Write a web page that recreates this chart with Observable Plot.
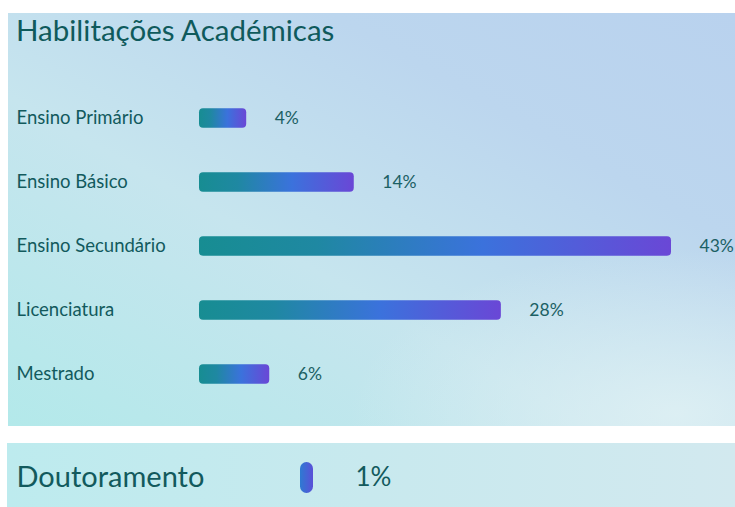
<!DOCTYPE html>
<html>
<head>
<meta charset="utf-8">
<script src="https://cdn.jsdelivr.net/npm/d3@7"></script>
<script src="https://cdn.jsdelivr.net/npm/@observablehq/plot@0.6"></script>
<style>
  html, body { margin: 0; padding: 0; background: #ffffff; width: 735px; height: 507px; overflow: hidden; font-family: Lato, "Open Sans", sans-serif; }
  #top { position: absolute; left: 8px; top: 13px; width: 727px; height: 413px;
    background:
      radial-gradient(ellipse 45% 40% at 92% 97%, rgba(224,241,244,0.85), rgba(224,241,244,0)),
      linear-gradient(to top right, #b3e9ea 0%, #c6e5ee 40%, #bcd6ee 72%, #b9d2ee 100%);
  }
  #title { position: absolute; left: 8px; top: -1px; font-size: 29.5px; line-height: 1.2; color: #0f5a5c; white-space: nowrap; }
  #bottom { position: absolute; left: 7px; top: 443px; width: 728px; height: 64px;
    background: linear-gradient(to right, #bdebee 0%, #c8e9ee 50%, #d2e9ef 100%);
  }
  .chart svg { position: absolute; left: 0; top: 0; }
</style>
</head>
<body>
<div id="top" class="chart"><div id="title">Habilitações Académicas</div></div>
<div id="bottom" class="chart"></div>
<script>
// Data
const categories = ["Ensino Primário", "Ensino Básico", "Ensino Secundário", "Licenciatura", "Mestrado"];
const values = [4.3, 14.1, 43.0, 27.5, 6.4];
const extraCategory = ["Doutoramento"];
const extraValues = [1];

const textColor = "#125a5d";
const valueColor = "#1b6064";
const rows = categories.map((c, i) => ({category: c, value: values[i], label: Math.round(values[i]) + "%"}));
const extraRows = extraCategory.map((c, i) => ({category: c, value: extraValues[i], label: Math.round(extraValues[i]) + "%"}));

function addGradient(svg, id, stops) {
  const defs = d3.select(svg).insert("defs", ":first-child");
  const g = defs.append("linearGradient").attr("id", id).attr("x1", "0").attr("x2", "1").attr("y1", "0").attr("y2", "0");
  stops.forEach(([o, c]) => g.append("stop").attr("offset", o).attr("stop-color", c));
}

const topPlot = Plot.plot({
  width: 727,
  height: 413,
  marginTop: 71,
  marginBottom: 19,
  marginLeft: 191,
  marginRight: 64,
  style: {background: "transparent", overflow: "visible", fontFamily: "Lato, 'Open Sans', sans-serif"},
  x: {domain: [0, 43], axis: null},
  y: {domain: categories, padding: 0, axis: null},
  marks: [
    Plot.barX(rows, {x: "value", y: "category", fill: "url(#barGrad)", rx: 4, insetTop: 22.3, insetBottom: 22.3}),
    Plot.text(rows, {x: "value", y: "category", text: "label", textAnchor: "start", dx: 28, fontSize: 17.5, fill: valueColor}),
    Plot.axisY({anchor: "left", tickSize: 0, tickPadding: 0, textAnchor: "start", dx: -183, fontSize: 18.5, fill: textColor, label: null})
  ]
});
addGradient(topPlot, "barGrad", [["0%", "#178d92"], ["25%", "#1f88a2"], ["60%", "#3b72dc"], ["100%", "#6a47d6"]]);
document.getElementById("top").appendChild(topPlot);

const bottomPlot = Plot.plot({
  width: 728,
  height: 64,
  marginTop: 1,
  marginBottom: -4,
  marginLeft: 293,
  marginRight: 325,
  style: {background: "transparent", overflow: "visible", fontFamily: "Lato, 'Open Sans', sans-serif"},
  x: {domain: [0, 10], axis: null},
  y: {domain: extraCategory, padding: 0, axis: null},
  marks: [
    Plot.barX(extraRows, {x: "value", y: "category", fill: "url(#pillGrad)", rx: 6.5, insetTop: 18, insetBottom: 18, insetRight: -2}),
    Plot.text(extraRows, {x: "value", y: "category", text: "label", textAnchor: "start", dx: 44, fontSize: 26, fill: textColor}),
    Plot.axisY({anchor: "left", tickSize: 0, tickPadding: 0, textAnchor: "start", dx: -284, fontSize: 29, fill: textColor, label: null})
  ]
});
addGradient(bottomPlot, "pillGrad", [["0%", "#2e7ad2"], ["100%", "#5a50d8"]]);
document.getElementById("bottom").appendChild(bottomPlot);
</script>
</body>
</html>
